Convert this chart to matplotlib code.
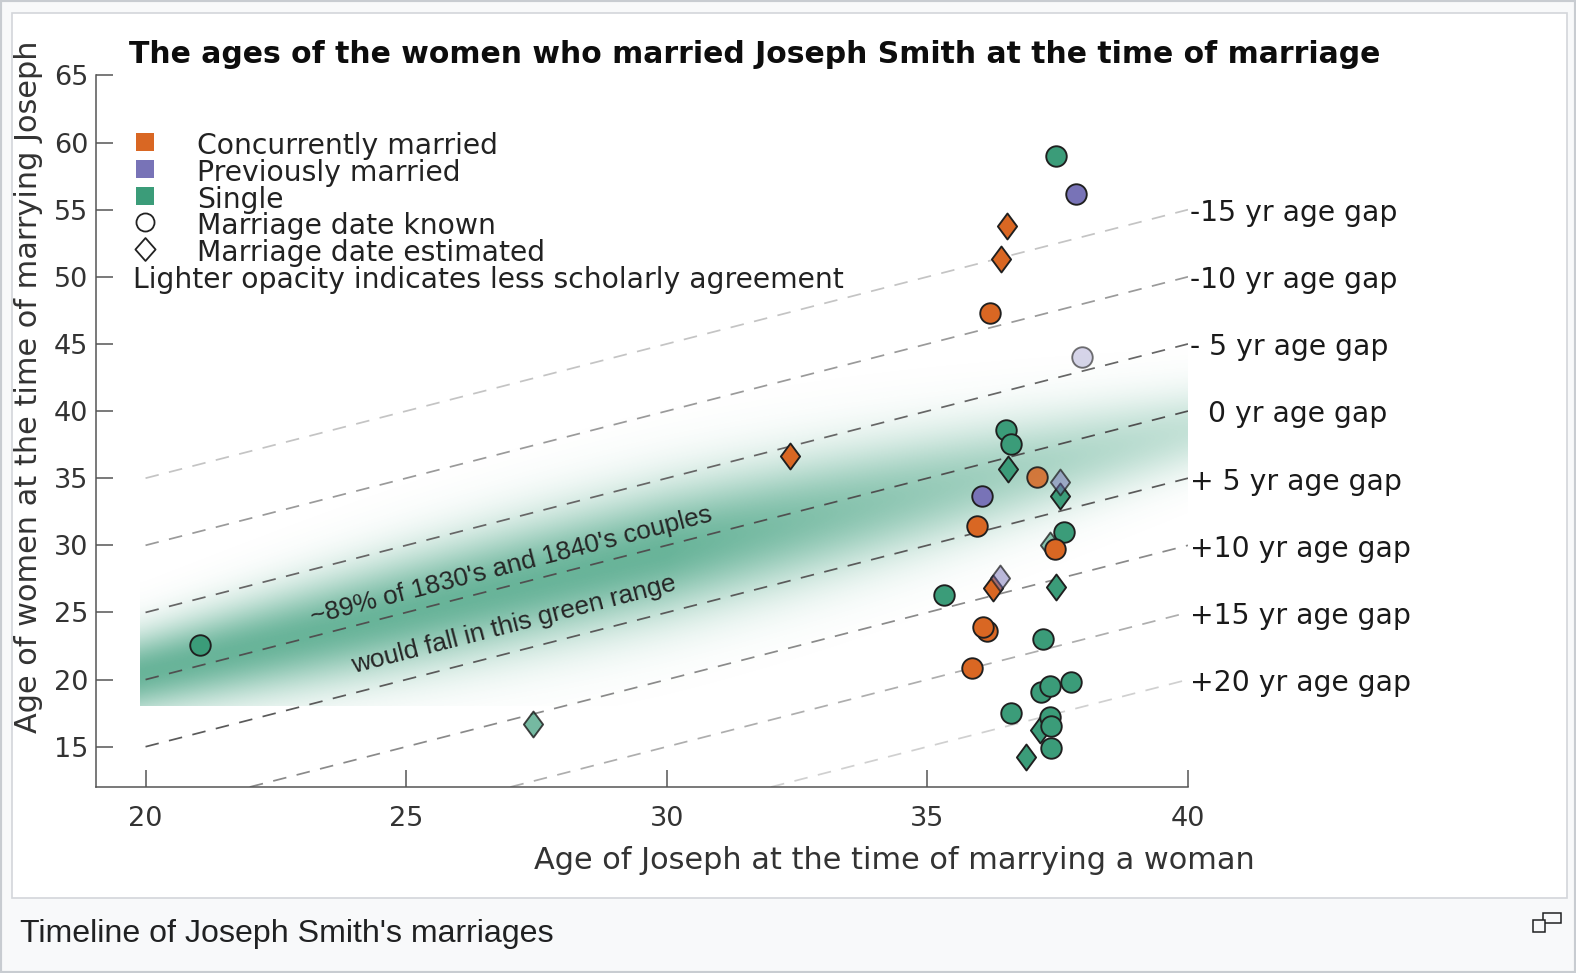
import numpy as np
import matplotlib
matplotlib.use("Agg")
import matplotlib.pyplot as plt
from matplotlib.path import Path
from matplotlib.patches import Rectangle
from matplotlib.lines import Line2D

# ---------------- data ----------------
joseph_age = [21.04, 27.44, 32.36, 35.32, 35.85, 35.96, 36.05, 36.15, 36.07, 36.21,
              36.25, 36.39, 36.42, 36.53, 36.51, 36.60, 36.55, 36.60, 36.89, 37.11,
              37.16, 37.18, 37.21, 37.35, 37.35, 37.37, 37.37, 37.35, 37.62, 37.45,
              37.47, 37.54, 37.54, 37.47, 37.75, 37.86, 37.96]
woman_age = [22.60, 16.72, 36.65, 26.30, 20.85, 31.44, 33.67, 23.62, 23.94, 47.28,
             26.80, 27.55, 51.30, 53.78, 38.59, 37.52, 35.66, 17.49, 14.26, 35.11,
             16.25, 19.10, 23.03, 19.53, 17.20, 16.55, 14.89, 30.03, 31.02, 29.70,
             26.92, 33.67, 34.74, 59.00, 19.85, 56.16, 44.05]
status = ["single", "single", "concurrent", "single", "concurrent", "concurrent", "previous", "concurrent", "concurrent", "concurrent",
          "concurrent", "previous", "concurrent", "concurrent", "single", "single", "single", "single", "single", "concurrent",
          "single", "single", "single", "single", "single", "single", "single", "single", "single", "concurrent",
          "single", "single", "previous", "single", "single", "previous", "previous"]
date_known = [True, False, False, True, True, True, True, True, True, True,
              False, False, False, False, True, True, False, True, False, True,
              False, True, True, True, True, True, True, False, True, True,
              False, False, False, True, True, True, True]
agreement = [1.0, 0.7, 1.0, 1.0, 1.0, 1.0, 1.0, 1.0, 1.0, 1.0,
             1.0, 0.5, 1.0, 1.0, 1.0, 1.0, 1.0, 1.0, 1.0, 0.85,
             1.0, 1.0, 1.0, 1.0, 1.0, 1.0, 1.0, 0.6, 1.0, 1.0,
             1.0, 1.0, 0.5, 1.0, 1.0, 1.0, 0.3]

gap_years = [-15, -10, -5, 0, 5, 10, 15, 20]
gap_labels = ["-15 yr age gap", "-10 yr age gap", "- 5 yr age gap", "  0 yr age gap",
              "+ 5 yr age gap", "+10 yr age gap", "+15 yr age gap", "+20 yr age gap"]
x_ticks = [20, 25, 30, 35, 40]
y_ticks = [15, 20, 25, 30, 35, 40, 45, 50, 55, 60, 65]
status_keys = ["concurrent", "previous", "single"]
status_labels = ["Concurrently married", "Previously married", "Single"]
shape_labels = ["Marriage date known", "Marriage date estimated"]
note_label = "Lighter opacity indicates less scholarly agreement"
band_texts = ["~89% of 1830's and 1840's couples", "would fall in this green range"]
title_text = "The ages of the women who married Joseph Smith at the time of marriage"
xlabel_text = "Age of Joseph at the time of marrying a woman"
ylabel_text = "Age of women at the time of marrying Joseph"
caption_text = "Timeline of Joseph Smith's marriages"

# ---------------- style ----------------
W, H = 1576, 973
status_colors = {"concurrent": (0.851, 0.404, 0.137),
                 "previous": (0.471, 0.451, 0.718),
                 "single": (0.231, 0.612, 0.475)}
band_rgb = (0.20, 0.60, 0.46)
gap_line_colors = ["#c4c4c4", "#9a9a9a", "#666666", "#505050", "#5a5a5a", "#8a8a8a", "#aeaeae", "#d0d0d0"]
axis_col = "#555555"

diamond = Path([(0, 0.5), (0.37, 0), (0, -0.5), (-0.37, 0), (0, 0.5)],
               [Path.MOVETO, Path.LINETO, Path.LINETO, Path.LINETO, Path.CLOSEPOLY])
diamond_leg = Path([(0, 0.5), (0.44, 0), (0, -0.5), (-0.44, 0), (0, 0.5)],
                   [Path.MOVETO, Path.LINETO, Path.LINETO, Path.LINETO, Path.CLOSEPOLY])


def F(px, py):
    return (px / W, 1 - py / H)


fig = plt.figure(figsize=(W / 100, H / 100), dpi=100)
fig.patch.set_facecolor("#f8f9fa")
renderer = fig.canvas.get_renderer()


def fit(t, target, use_height=False):
    bb = t.get_window_extent(renderer)
    cur = bb.height if use_height else bb.width
    t.set_fontsize(t.get_fontsize() * target / cur)
    return t.get_fontsize()


# page frame
x0, y0 = F(11.5, 898)
x1, y1 = F(1567, 12.5)
fig.add_artist(Rectangle((x0, y0), x1 - x0, y1 - y0, transform=fig.transFigure,
                         facecolor="white", edgecolor="#d3d6da", lw=1.2, zorder=-1))
fig.add_artist(Rectangle((0, 0), 1, 1, transform=fig.transFigure, fill=False,
                         edgecolor="#c8ccd1", lw=3, zorder=5))

# axes
ax = fig.add_axes([95.5 / W, 1 - 787 / H, (1188 - 95.5) / W, (787 - 75.4) / H])
ax.set_facecolor("white")

# green band
nx, ny = 900, 600
bx = np.linspace(19.9, 40.0, nx)
by = np.linspace(18.0, 50.0, ny)
BX, BY = np.meshgrid(bx, by)
center = 20.5 + 0.9 * (BX - 20)
sigma = 2.1 + 1.2 * np.sin(np.pi * np.clip((BX - 20) / 20, 0, 1))
amax = 0.74 - 0.45 * np.clip((BX - 30) / 10, 0, 1)
rgba = np.zeros((ny, nx, 4))
rgba[..., 0], rgba[..., 1], rgba[..., 2] = band_rgb
rgba[..., 3] = amax * np.exp(-0.5 * ((BY - center) / sigma) ** 2)
ax.imshow(rgba, extent=[19.9, 40.0, 18.0, 50.0], origin="lower", aspect="auto",
          interpolation="bilinear", zorder=1)

# age gap lines
lw_gap = 1.25
for g, col in zip(gap_years, gap_line_colors):
    xs = np.array([max(20.0, 12.0 + g), 40.0])
    ax.plot(xs, xs - g, color=col, lw=lw_gap, dashes=(9.8 / lw_gap, 7.6 / lw_gap), zorder=2)

gap_texts = []
for g, lab in zip(gap_years, gap_labels):
    t = ax.text(40.04, (40 - g) - 0.03, lab, ha="left", va="center_baseline",
                fontsize=19, color="#1a1a1a", clip_on=False)
    gap_texts.append(t)
fs_gap = fit(gap_texts[0], 207)
for t in gap_texts:
    t.set_fontsize(fs_gap)

# points
for i, (xj, yw, st, known, ag) in enumerate(zip(joseph_age, woman_age, status, date_known, agreement)):
    r, g_, b = status_colors[st]
    ea = 0.45 + 0.55 * ag
    if known:
        ax.scatter([xj], [yw], s=218, marker="o", facecolor=[(r, g_, b, ag)],
                   edgecolor=[(0.12, 0.12, 0.12, ea)], linewidths=1.35, zorder=3 + 0.01 * i)
    else:
        ax.scatter([xj], [yw], s=350, marker=diamond, facecolor=[(r, g_, b, ag)],
                   edgecolor=[(0.12, 0.12, 0.12, ea)], linewidths=1.35, zorder=3 + 0.01 * i)

# axes styling
ax.set_xlim(19.04, 40)
ax.set_ylim(12, 65)
ax.set_xticks(x_ticks)
ax.set_yticks(y_ticks)
for s in ["top", "right"]:
    ax.spines[s].set_visible(False)
for s in ["left", "bottom"]:
    ax.spines[s].set_color(axis_col)
    ax.spines[s].set_linewidth(1.1)
ax.tick_params(direction="in", length=12.5, width=1.1, color=axis_col,
               labelsize=19.5, labelcolor="#333333")
ax.tick_params(axis="x", pad=13.5)
ax.tick_params(axis="y", pad=5)

xl = ax.set_xlabel(xlabel_text, fontsize=20, color="#333333")
fit(xl, 720)
ax.xaxis.set_label_coords((894 - 95.5) / (1188 - 95.5), -(846 - 787) / (787 - 75.4))
yl = ax.set_ylabel(ylabel_text, fontsize=20, color="#333333")
fit(yl, 694, use_height=True)
ax.yaxis.set_label_coords((43 - 95.5) / (1188 - 95.5), (787 - 387) / (787 - 75.4))

# title
tt = fig.text(*F(129, 63.3), title_text, fontsize=20, fontweight="heavy",
              ha="left", va="baseline", color="#0d0d0d")
fit(tt, 1250)

# legend
row0, drow = 142.3, 26.67
leg_texts = []
for i, (key, lab) in enumerate(zip(status_keys, status_labels)):
    fig.add_artist(Line2D([144.7 / W], [1 - (row0 + i * drow) / H], transform=fig.transFigure,
                          marker="s", markersize=13, linestyle="none",
                          markerfacecolor=status_colors[key], markeredgewidth=0))
    leg_texts.append(fig.text(*F(197, row0 + 12 + i * drow), lab, fontsize=20,
                              ha="left", va="baseline", color="#222222"))
for j, (lab, mk) in enumerate(zip(shape_labels, ["o", diamond_leg])):
    i = 3 + j
    fig.add_artist(Line2D([144.7 / W], [1 - (row0 + i * drow) / H], transform=fig.transFigure,
                          marker=mk, markersize=13 if mk == "o" else 16.5, linestyle="none",
                          markerfacecolor="white", markeredgecolor="#222222", markeredgewidth=1.3))
    leg_texts.append(fig.text(*F(197, row0 + 12 + i * drow), lab, fontsize=20,
                              ha="left", va="baseline", color="#222222"))
leg_texts.append(fig.text(*F(133, row0 + 12 + 5 * drow), note_label, fontsize=20,
                          ha="left", va="baseline", color="#222222"))
fs_leg = fit(leg_texts[0], 301.5)
for t in leg_texts:
    t.set_fontsize(fs_leg)

# band annotations
bt1 = fig.text(*F(511, 566), band_texts[0], fontsize=17, family="Liberation Sans",
               ha="center", va="center", color="#262626")
fs_band = fit(bt1, 414)
bt2 = fig.text(*F(514, 625), band_texts[1], fontsize=fs_band, family="Liberation Sans",
               ha="center", va="center", color="#262626")
for t in (bt1, bt2):
    t.set_rotation(14.45)
    t.set_rotation_mode("anchor")

# caption
cap = fig.text(*F(20.5, 941.7), caption_text, fontsize=22, family="Liberation Sans",
               ha="left", va="baseline", color="#202122")
fit(cap, 531)

# enlarge icon
for (ax0, ay0, ax1, ay1) in [(1543, 912.7, 1561, 923.3), (1533, 920, 1545, 932)]:
    p0 = F(ax0, ay1)
    p1 = F(ax1, ay0)
    fig.add_artist(Rectangle(p0, p1[0] - p0[0], p1[1] - p0[1], transform=fig.transFigure,
                             facecolor="#f8f9fa", edgecolor="#202122", lw=1.1, zorder=3))

fig.savefig("out.png", dpi=100)
